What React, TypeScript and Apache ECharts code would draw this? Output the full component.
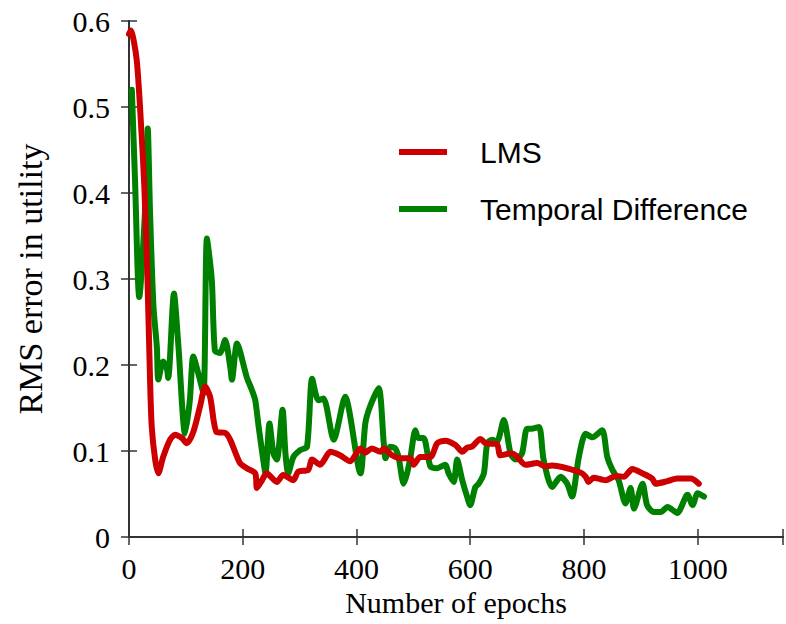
import React, { useEffect, useRef } from "react";
import * as echarts from "echarts";

const lmsEpochs = [0, 3, 13.5, 22, 27, 32.5, 37, 40, 46, 51.6, 60, 72, 81, 93, 101.6, 113, 125, 134, 142.6, 154, 169, 178, 195, 207, 222, 225, 234, 242, 260, 271, 289, 297.5, 315, 322, 336, 354, 371, 389, 407, 415, 427, 442, 448, 462.5, 477, 495, 500.5, 512, 530, 542, 556, 574, 586, 594.5, 603, 618, 627, 647, 653, 671, 680, 697, 718, 732, 744, 794, 803, 808, 817, 838, 856, 870, 885, 903, 920, 926, 947, 964, 988, 1002];
const lmsError = [0.585, 0.589, 0.555, 0.47, 0.407, 0.3, 0.183, 0.128, 0.09, 0.074, 0.093, 0.113, 0.119, 0.115, 0.109, 0.122, 0.152, 0.175, 0.163, 0.122, 0.121, 0.113, 0.086, 0.08, 0.074, 0.057, 0.066, 0.074, 0.064, 0.072, 0.066, 0.076, 0.078, 0.09, 0.084, 0.099, 0.095, 0.088, 0.103, 0.098, 0.103, 0.099, 0.103, 0.095, 0.0915, 0.0915, 0.084, 0.093, 0.093, 0.109, 0.112, 0.107, 0.099, 0.104, 0.105, 0.114, 0.109, 0.108, 0.095, 0.097, 0.095, 0.084, 0.086, 0.082, 0.083, 0.075, 0.07, 0.064, 0.069, 0.066, 0.071, 0.07, 0.079, 0.074, 0.068, 0.062, 0.065, 0.068, 0.068, 0.062];

const tdEpochs = [5, 10.6, 18, 31, 33, 37, 43, 49, 51.6, 60, 66, 69, 79, 87, 98.6, 107, 113, 122, 131, 137, 145.6, 151, 160, 169, 178, 181, 190, 207, 216, 222, 228, 236, 240, 247, 254, 260, 270, 275, 280, 289, 301, 313, 322, 333, 342, 360, 380, 407, 415.5, 424, 439, 448, 451, 459.5, 468, 474, 483, 489, 495, 503.5, 509, 518, 530, 542, 556, 562, 571, 577, 586, 594.5, 600, 609, 615, 624, 630, 638.5, 647, 659, 671, 680, 691, 700, 709, 721, 729, 744, 759, 770.6, 779, 791, 803, 815, 832, 841, 850, 861, 873, 882, 888, 903, 911, 923, 935, 947, 964, 982, 991, 1000, 1011];
const tdError = [0.52, 0.415, 0.279, 0.415, 0.475, 0.377, 0.268, 0.221, 0.183, 0.204, 0.198, 0.185, 0.283, 0.221, 0.12, 0.159, 0.21, 0.19, 0.167, 0.347, 0.299, 0.217, 0.214, 0.229, 0.198, 0.183, 0.225, 0.186, 0.171, 0.159, 0.128, 0.09, 0.074, 0.132, 0.097, 0.09, 0.148, 0.098, 0.074, 0.093, 0.101, 0.105, 0.184, 0.159, 0.161, 0.113, 0.163, 0.074, 0.132, 0.152, 0.173, 0.109, 0.0915, 0.105, 0.103, 0.093, 0.062, 0.074, 0.093, 0.124, 0.115, 0.115, 0.082, 0.08, 0.084, 0.074, 0.064, 0.09, 0.066, 0.047, 0.037, 0.058, 0.062, 0.074, 0.109, 0.113, 0.111, 0.136, 0.097, 0.09, 0.097, 0.126, 0.126, 0.128, 0.09, 0.058, 0.07, 0.062, 0.047, 0.093, 0.12, 0.116, 0.124, 0.093, 0.078, 0.066, 0.039, 0.057, 0.033, 0.062, 0.037, 0.029, 0.029, 0.035, 0.028, 0.049, 0.037, 0.051, 0.047];

const seriesNames = ["LMS", "Temporal Difference"];
const xTicks = [0, 200, 400, 600, 800, 1000];

export default function App() {
  const ref = useRef<HTMLDivElement>(null);
  useEffect(() => {
    if (!ref.current) return;
    const chart = echarts.init(ref.current, null, { renderer: "svg" });
    const serif = "Liberation Serif, Times New Roman, serif";
    const sans = "Liberation Sans, Arial, sans-serif";
    const frame = { lineStyle: { color: "#333", width: 2 } };
    chart.setOption({
      animation: false,
      backgroundColor: "#fff",
      grid: { left: 129, right: 3, top: 21, bottom: 87, containLabel: false },
      legend: {
        orient: "vertical",
        left: 394,
        top: 130,
        data: seriesNames,
        icon: "rect",
        itemWidth: 48,
        itemHeight: 6,
        itemGap: 23,
        textStyle: { fontFamily: sans, fontSize: 30, color: "#000", lineHeight: 34, padding: [0, 0, 0, 28] },
      },
      xAxis: [
        {
          type: "value",
          min: 0,
          max: 1150,
          interval: 200,
          position: "bottom",
          name: "Number of epochs",
          nameLocation: "middle",
          nameGap: 50,
          nameTextStyle: { fontFamily: serif, fontSize: 30, color: "#000" },
          axisLine: { show: true, ...frame },
          axisTick: { show: true, inside: true, length: 8, lineStyle: { color: "#333", width: 1.5 } },
          axisLabel: {
            fontFamily: serif,
            fontSize: 30,
            color: "#000",
            margin: 16,
            formatter: (v: number) => (xTicks.includes(v) ? String(v) : ""),
          },
          splitLine: { show: false },
        },
        {
          type: "value",
          min: 0,
          max: 1150,
          interval: 200,
          position: "top",
          axisLine: { show: true, ...frame },
          axisTick: { show: true, inside: true, length: 8, lineStyle: { color: "#333", width: 1.5 } },
          axisLabel: { show: false },
          splitLine: { show: false },
        },
      ],
      yAxis: [
        {
          type: "value",
          min: 0,
          max: 0.6,
          interval: 0.1,
          position: "left",
          name: "RMS error in utility",
          nameLocation: "middle",
          nameGap: 82,
          nameTextStyle: { fontFamily: serif, fontSize: 34, color: "#000" },
          axisLine: { show: true, ...frame },
          axisTick: { show: true, inside: true, length: 8, lineStyle: { color: "#333", width: 1.5 } },
          axisLabel: { fontFamily: serif, fontSize: 30, color: "#000", margin: 19 },
          splitLine: { show: false },
        },
        {
          type: "value",
          min: 0,
          max: 0.6,
          interval: 0.1,
          position: "right",
          axisLine: { show: true, ...frame },
          axisTick: { show: true, inside: true, length: 8, lineStyle: { color: "#333", width: 1.5 } },
          axisLabel: { show: false },
          splitLine: { show: false },
        },
      ],
      series: [
        {
          name: seriesNames[1],
          type: "line",
          data: tdEpochs.map((x, i) => [x, tdError[i]]),
          showSymbol: false,
          symbol: "none",
          smooth: 0.25,
          color: "#008000",
          lineStyle: { color: "#008000", width: 6, cap: "round", join: "round" },
          z: 2,
        },
        {
          name: seriesNames[0],
          type: "line",
          data: lmsEpochs.map((x, i) => [x, lmsError[i]]),
          showSymbol: false,
          symbol: "none",
          smooth: 0.25,
          color: "#cc0000",
          lineStyle: { color: "#cc0000", width: 6, cap: "round", join: "round" },
          z: 3,
        },
      ],
    });
    return () => chart.dispose();
  }, []);
  return (
    <div
      ref={ref}
      style={{ position: "fixed", left: 0, top: 0, width: 786, height: 624, background: "#fff" }}
    />
  );
}
